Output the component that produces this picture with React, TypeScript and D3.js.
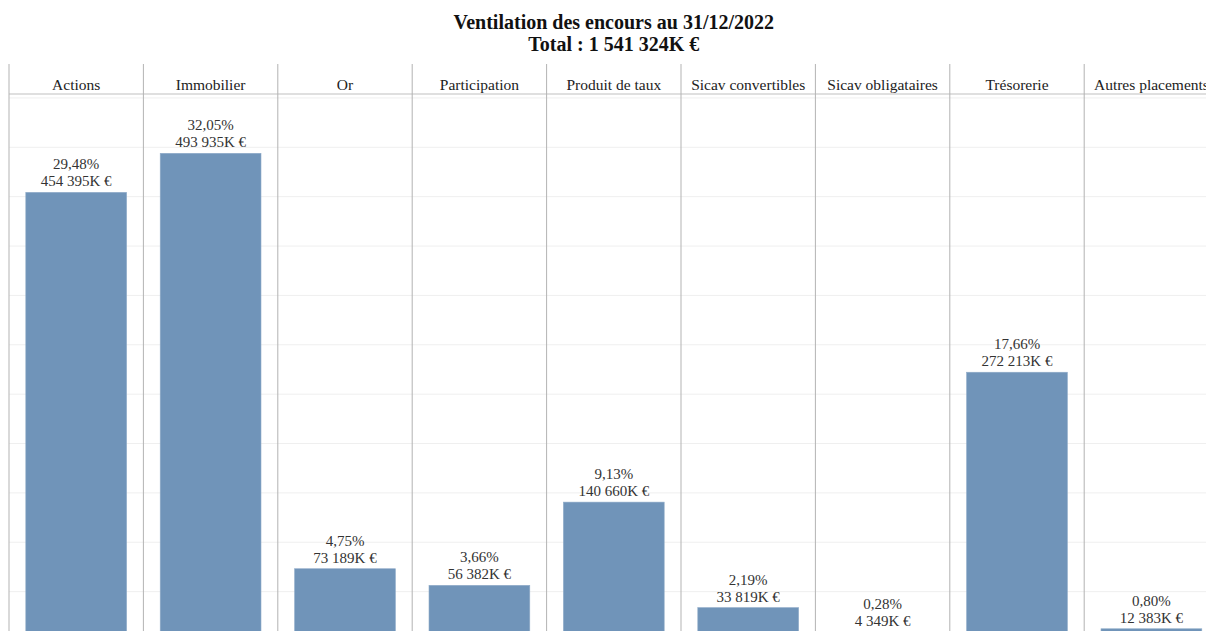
import * as d3 from 'd3';

const categories = [
  'Actions',
  'Immobilier',
  'Or',
  'Participation',
  'Produit de taux',
  'Sicav convertibles',
  'Sicav obligataires',
  'Trésorerie',
  'Autres placements',
];
const values = [454395, 493935, 73189, 56382, 140660, 33819, 4349, 272213, 12383];
const percentLabels = ['29,48%', '32,05%', '4,75%', '3,66%', '9,13%', '2,19%', '0,28%', '17,66%', '0,80%'];
const valueLabels = [
  '454 395K €',
  '493 935K €',
  '73 189K €',
  '56 382K €',
  '140 660K €',
  '33 819K €',
  '4 349K €',
  '272 213K €',
  '12 383K €',
];
const titleLines = ['Ventilation des encours au 31/12/2022', 'Total : 1 541 324K €'];

const WIDTH = 1206;
const HEIGHT = 631;
const FONT = '"Liberation Serif", "Times New Roman", serif';

export default function App(): React.JSX.Element {
  const colWidth = 134.4;
  const left = 9;
  const headerTop = 64;
  const headerLine = 94;

  // one column per category, chart runs past the right edge like the original
  const x = d3.scaleBand<string>()
    .domain(categories)
    .range([left, left + categories.length * colWidth])
    .padding(0);

  const barX = d3.scaleBand<string>()
    .domain(categories)
    .range([left, left + categories.length * colWidth])
    .paddingInner(0.25)
    .paddingOuter(0.125);

  const y = d3.scaleLinear().domain([0, 554000]).range([641, headerLine]);
  const ticks = d3.range(50000, 554000, 50000);
  const chartCenter = left + (categories.length * colWidth) / 2;

  return (
    <div style={{ position: 'fixed', left: 0, top: 0, width: WIDTH, height: HEIGHT, overflow: 'hidden', background: '#fff' }}>
      <svg width={WIDTH} height={HEIGHT} style={{ display: 'block' }}>
        {/* Title */}
        <g fontFamily={FONT} fontWeight="bold" fontSize={20} fill="#111" textAnchor="middle">
          {titleLines.map((t, i) => (
            <text key={i} x={chartCenter} y={29 + i * 22}>{t}</text>
          ))}
        </g>

        {/* Gridlines */}
        <g>
          {ticks.map(t => (
            <line key={t} x1={left} x2={WIDTH} y1={y(t)} y2={y(t)} stroke="#efefef" strokeWidth={1} />
          ))}
        </g>

        {/* Bars */}
        <g>
          {categories.map((c, i) => (
            <rect
              key={c}
              x={barX(c)}
              y={y(values[i])}
              width={barX.bandwidth()}
              height={y(0) - y(values[i])}
              fill="#7094b9"
              stroke="#8fabc8"
              strokeWidth={0.6}
            />
          ))}
        </g>

        {/* Bar labels, kept inside the visible area near the bottom */}
        <g fontFamily={FONT} fontSize={15} fill="#333" textAnchor="middle">
          {categories.map((c, i) => {
            const cx = (x(c) ?? 0) + x.bandwidth() / 2;
            const base = Math.min(y(values[i]) - 6, HEIGHT - 5);
            return (
              <g key={c}>
                <text x={cx} y={base - 17}>{percentLabels[i]}</text>
                <text x={cx} y={base}>{valueLabels[i]}</text>
              </g>
            );
          })}
        </g>

        {/* Header line */}
        <line x1={left} x2={WIDTH} y1={headerLine} y2={headerLine} stroke="#d4d4d4" strokeWidth={1.5} />

        {/* Column separators */}
        <g>
          {categories.map(c => (
            <line
              key={c}
              x1={x(c)}
              x2={x(c)}
              y1={headerTop}
              y2={HEIGHT}
              stroke="#b3b3b3"
              strokeWidth={1}
            />
          ))}
        </g>

        {/* Column headers */}
        <g fontFamily={FONT} fontSize={15.5} fill="#222" textAnchor="middle">
          {categories.map(c => (
            <text key={c} x={(x(c) ?? 0) + x.bandwidth() / 2} y={90}>{c}</text>
          ))}
        </g>
      </svg>
    </div>
  );
}
